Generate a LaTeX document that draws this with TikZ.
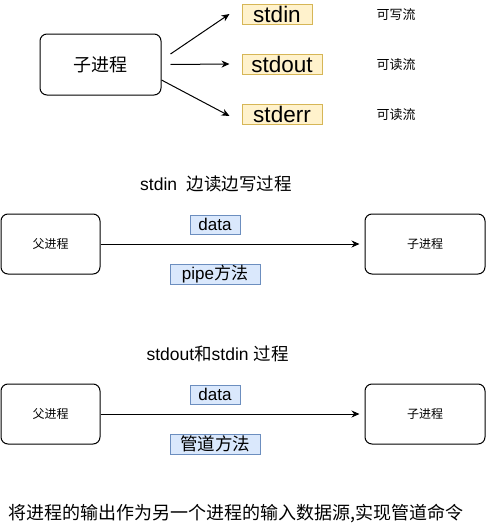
\documentclass[tikz,border=0pt]{standalone}
\usepackage{fontspec}
\setmainfont{Liberation Sans}
\newfontfamily\cjk{Noto Sans CJK SC}
\usetikzlibrary{arrows.meta,positioning}
\definecolor{streamfill}{HTML}{FFF2CC}
\definecolor{streamdraw}{HTML}{D6B656}
\definecolor{tagfill}{HTML}{DAE8FC}
\definecolor{tagdraw}{HTML}{6C8EBF}
\tikzset{%
  arrow/.style={line width=1pt,-{Stealth[length=8pt,width=7pt]}},
  proc/.style={draw,line width=1pt,rounded corners=7pt,inner sep=0pt},
  stream/.style={draw=streamdraw,fill=streamfill,line width=1pt,inner sep=0pt,minimum height=20pt,font=\fontsize{22.5}{22.5}\selectfont},
  tag/.style={draw=tagdraw,fill=tagfill,line width=1pt,inner sep=0pt,minimum height=20pt,font=\fontsize{17}{17}\selectfont},
  note/.style={font=\cjk\fontsize{13}{13}\selectfont},
  title/.style={font=\fontsize{17.5}{17.5}\selectfont},
}

\begin{document}
\begin{tikzpicture}[x=1pt,y=-1pt]
  \useasboundingbox (0,0) rectangle (486,525);

  % child process and its streams
  \node[proc,minimum width=121pt,minimum height=61pt,font=\cjk\fontsize{18}{18}\selectfont] (child) at (100.5,64.5) {子进程};
  \node[stream,minimum width=70pt] (stdin) at (277,14) {stdin};
  \node[stream,minimum width=80pt] (stdout) at (282,64) {stdout};
  \node[stream,minimum width=80pt] (stderr) at (282,114) {stderr};
  \node[note] (inNote) at (396,15) {可写流};
  \node[note] (outNote) at (396,65) {可读流};
  \node[note] (errNote) at (396,115) {可读流};

  \draw[arrow] ([shift={(9pt,10.5pt)}]child.east) -- ([xshift=-12pt]stdin.west);
  \draw[arrow] ([xshift=9pt]child.east) -- ([xshift=-12pt]stdout.west);
  \draw[arrow] ([yshift=-15.5pt]child.east) -- ([shift={(-12pt,-2pt)}]stderr.west);

  % stdin process
  \node[title] (titleA) at (216,184) {stdin\ \ {\cjk 边读边写过程}};
  \node[proc,minimum width=99pt,minimum height=60pt,font=\cjk\fontsize{12}{12}\selectfont] (parentA) at (50.5,244) {父进程};
  \node[proc,minimum width=120pt,minimum height=60pt,font=\cjk\fontsize{12}{12}\selectfont] (childA) at (425,244) {子进程};
  \node[tag,minimum width=50pt,minimum height=19pt] (dataA) at (215,224.5) {data};
  \node[tag,minimum width=90pt] (pipeA) at (215,274) {pipe{\cjk 方法}};
  \draw[arrow] (parentA.east) -- ([xshift=-5pt]childA.west);

  % stdout and stdin process
  \node[title] (titleB) at (217.5,354) {stdout{\cjk 和}stdin {\cjk 过程}};
  \node[proc,minimum width=99pt,minimum height=60pt,font=\cjk\fontsize{12}{12}\selectfont] (parentB) at (50.5,414) {父进程};
  \node[proc,minimum width=120pt,minimum height=60pt,font=\cjk\fontsize{12}{12}\selectfont] (childB) at (425,414) {子进程};
  \node[tag,minimum width=50pt,minimum height=19pt] (dataB) at (215,394.5) {data};
  \node[tag,minimum width=90pt,font=\cjk\fontsize{17.5}{17.5}\selectfont] (pipeB) at (215,444) {管道方法};
  \draw[arrow] (parentB.east) -- ([xshift=-5pt]childB.west);

  \node[font=\cjk\fontsize{18}{18}\selectfont] (summary) at (236,514) {将进程的输出作为另一个进程的输入数据源,实现管道命令};
\end{tikzpicture}
\end{document}
